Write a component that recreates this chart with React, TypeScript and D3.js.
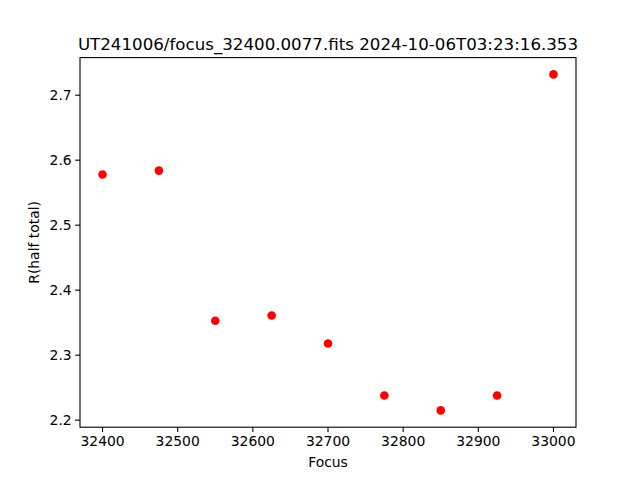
import React from 'react';
import * as d3 from 'd3';

const focusValues = [32400, 32475, 32550, 32625, 32700, 32775, 32850, 32925, 33000];
const radiusValues = [2.578, 2.584, 2.353, 2.361, 2.318, 2.238, 2.215, 2.238, 2.732];
const xTicks = [32400, 32500, 32600, 32700, 32800, 32900, 33000];
const yTicks = [2.2, 2.3, 2.4, 2.5, 2.6, 2.7];
const title = 'UT241006/focus_32400.0077.fits 2024-10-06T03:23:16.353';

export default function App() {
  const width = 640;
  const height = 480;
  const margin = { top: 57.6, right: 64, bottom: 52.8, left: 80 };
  const innerW = width - margin.left - margin.right;
  const innerH = height - margin.top - margin.bottom;

  // matplotlib style 5% padding around the data
  const [xMin, xMax] = d3.extent(focusValues) as [number, number];
  const [yMin, yMax] = d3.extent(radiusValues) as [number, number];
  const xPad = (xMax - xMin) * 0.05;
  const yPad = (yMax - yMin) * 0.05;

  const x = d3.scaleLinear().domain([xMin - xPad, xMax + xPad]).range([0, innerW]);
  const y = d3.scaleLinear().domain([yMin - yPad, yMax + yPad]).range([innerH, 0]);

  const font = 'DejaVu Sans, sans-serif';
  const tickLen = 4.86;

  return (
    <div style={{ position: 'absolute', top: 0, left: 0 }}>
      <svg width={width} height={height} style={{ display: 'block', background: '#fff' }}>
        <text x={margin.left + innerW / 2} y={margin.top - 8} textAnchor="middle"
          fontFamily={font} fontSize={16.67} fill="#000">{title}</text>
        <g transform={`translate(${margin.left},${margin.top})`}>
          {radiusValues.map((v, i) => (
            <circle key={i} cx={x(focusValues[i])} cy={y(v)} r={4.3} fill="#ff0000" />
          ))}
          <rect x={0} y={0} width={innerW} height={innerH} fill="none" stroke="#000" strokeWidth={1.1} />
          {xTicks.map(t => (
            <g key={t} transform={`translate(${x(t)},${innerH})`}>
              <line y2={tickLen} stroke="#000" strokeWidth={1.1} />
              <text y={tickLen + 14} textAnchor="middle" fontFamily={font} fontSize={13.9} fill="#000">{t}</text>
            </g>
          ))}
          {yTicks.map(t => (
            <g key={t} transform={`translate(0,${y(t)})`}>
              <line x2={-tickLen} stroke="#000" strokeWidth={1.1} />
              <text x={-tickLen - 3.5} dy="0.35em" textAnchor="end" fontFamily={font} fontSize={13.9} fill="#000">{t.toFixed(1)}</text>
            </g>
          ))}
          <text x={innerW / 2} y={innerH + 40} textAnchor="middle" fontFamily={font} fontSize={13.9} fill="#000">Focus</text>
          <text transform={`translate(${-41},${innerH / 2}) rotate(-90)`} textAnchor="middle"
            fontFamily={font} fontSize={13.9} fill="#000">R(half total)</text>
        </g>
      </svg>
    </div>
  );
}
